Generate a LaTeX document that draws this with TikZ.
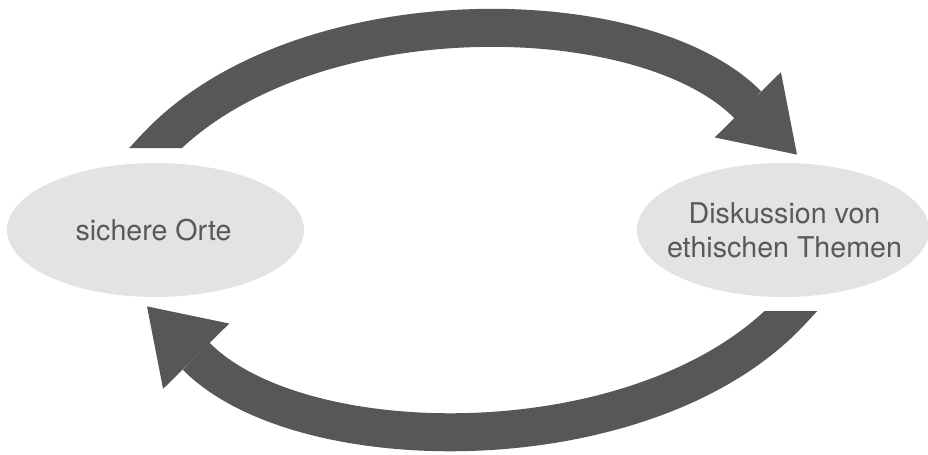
\documentclass[tikz,border=0pt]{standalone}
\usepackage{fontspec}
\setmainfont{TeX Gyre Heros}
\usetikzlibrary{shapes.geometric,arrows.meta,calc}
\definecolor{bubble}{HTML}{E3E3E3}
\definecolor{arrowgray}{HTML}{575757}
\definecolor{labelgray}{HTML}{595959}
\begin{document}
\begin{tikzpicture}[x=0.5pt,y=-0.5pt,
  place/.style={ellipse, fill=bubble, draw=none, minimum width=148.5pt,
                minimum height=67pt, inner sep=0pt},
  caption/.style={text=labelgray, font=\fontsize{14.3}{17}\selectfont, align=center},
  flow/.style={draw=arrowgray, line width=19pt,
               -{Triangle[length=35pt,width=46.5pt,line width=0pt]}}]
\useasboundingbox (0,0) rectangle (928,455);

% the two stations of the cycle
\node[place] (l) at (155.5,230) {};
\node[place, minimum width=146pt] (r) at (783,230) {};
\node[caption] (lt) at (153.5,230) {sichere Orte};
\node[caption] (rt) at (784.5,230) {Diskussion von\\ethischen Themen};

% upper arc: from the left bubble over to the right one
\coordinate (a0) at ($(l.north)+(0,-15)$);
\coordinate (a1) at ($(r.north)+(14,-8)$);
\begin{scope}
  \clip (-10,-10) -- (940,-10) -- (940,470) -- (400,470) -- (400,148)
        -- (-10,148) -- cycle;
  \draw[flow] ($(a0)+(-17,18.3)$) -- (a0)
        .. controls +(143.2,-153.6) and +(-155,-157) .. (a1);
\end{scope}

% lower arc: from the right bubble back to the left one
\coordinate (b0) at ($(r.south)+(8,14)$);
\coordinate (b1) at ($(l.south)+(-8.5,9)$);
\begin{scope}
  \clip (-10,-10) -- (544,-10) -- (544,311) -- (940,311) -- (940,470)
        -- (-10,470) -- cycle;
  \draw[flow] ($(b0)+(17,-18.3)$) -- (b0)
        .. controls +(-143.2,153.6) and +(155,157) .. (b1);
\end{scope}
\end{tikzpicture}
\end{document}
